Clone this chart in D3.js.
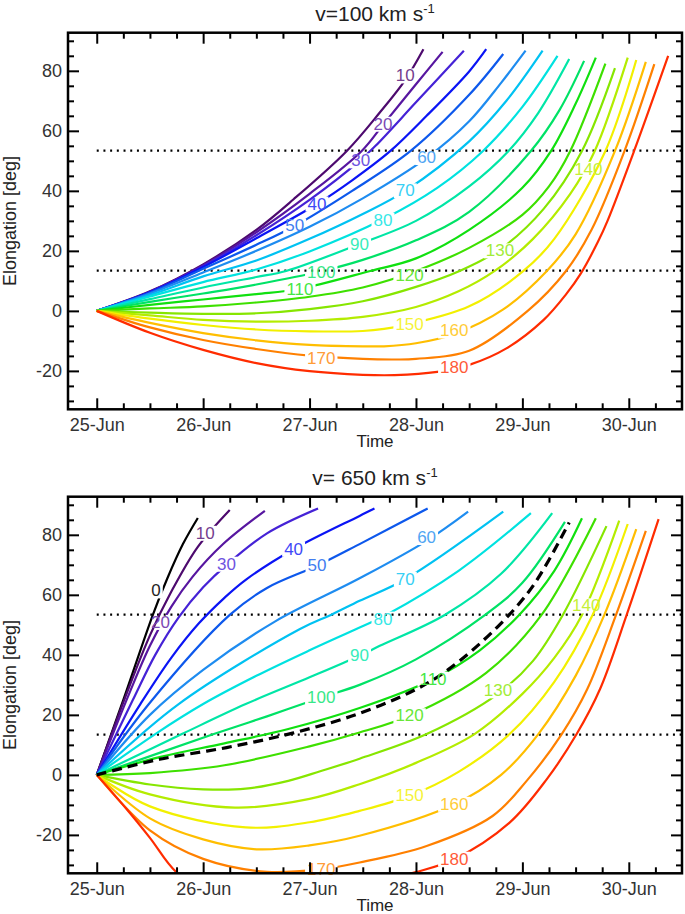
<!DOCTYPE html>
<html><head><meta charset="utf-8">
<script src="https://cdn.jsdelivr.net/npm/d3@7"></script>
<style>
body{margin:0;background:#fff}
svg{display:block}
text{font-family:"Liberation Sans",Arial,sans-serif}
</style>
</head><body>
<svg id="c" width="685" height="914"></svg>
<script>
// ---------- tick labels / categories ----------
const dayTicks = [25,26,27,28,29,30];
const dayLabels = ["25-Jun","26-Jun","27-Jun","28-Jun","29-Jun","30-Jun"];
const elongTicks = [-20,0,20,40,60,80];
const refLevels = [13.4, 53.4];
const panelTitles = ["v=100 km s","v= 650 km s"];
const directions = [0,10,20,30,40,50,60,70,80,90,100,110,120,130,140,150,160,170,180];
const directionColors = ["#000000","#4d0a6e","#5716a0","#4522d6","#0a14f5","#0d58ec","#1e8cf0","#00c2f2","#00e2e0","#00e6a6","#00e266","#10e010","#3ee000","#86e600","#b4ec00","#f2f000","#ffbe00","#ff8000","#ff2c00"];

// ---------- v = 100 km/s : [day of June, elongation deg] ----------
const slow10 = [[25,0],[25.5,6.5],[26,15.5],[26.5,27],[26.85,37.2],[27.35,53.3],[27.66,66.1],[27.9,77],[28.07,87.2]];
const slow20 = [[25,0],[25.5,6.4],[26,15.2],[26.5,26.2],[27,39],[27.49,53.3],[27.69,62],[28,75.5],[28.25,86.3]];
const slow30 = [[25,0],[25.5,6.3],[26,14.9],[26.5,25.2],[27,37],[27.47,50],[27.62,55],[28,69.5],[28.45,86.7]];
const slow40 = [[25,0],[25.5,6.2],[26,14.6],[26.5,24.2],[27.07,35.6],[27.4,43.5],[27.76,53.3],[28.1,65],[28.5,79.8],[28.66,87.2]];
const slow50 = [[25,0],[25.5,6],[26,14],[26.5,22],[26.86,28.3],[27.4,40],[27.95,53.3],[28.5,72],[28.82,85.6]];
const slow60 = [[25,0],[25.5,5.8],[26,12.8],[26.5,20],[27,28],[27.5,37.5],[28.1,51],[28.5,63.2],[28.8,76],[29.03,86.7]];
const slow70 = [[25,0],[25.5,5.3],[26,11.5],[26.5,16.8],[27,24],[27.5,32.3],[27.9,40],[28.5,56.5],[28.85,70],[29.19,86.7]];
const slow80 = [[25,0],[25.5,4.8],[26,9.6],[26.5,13.8],[27,19.8],[27.69,30.5],[28.2,41],[28.63,53.3],[29,68],[29.33,85]];
const slow90 = [[25,0],[25.5,3.9],[26,7.8],[26.5,11.3],[26.78,13.3],[27.47,22.3],[28,30],[28.5,41.5],[28.87,53.3],[29.15,66],[29.44,83.9]];
const slow100 = [[25,0],[25.5,3],[26,5.8],[26.5,8.8],[27.12,13.3],[27.5,17],[28,23.5],[28.5,33],[29.08,53.3],[29.35,67],[29.58,83.3]];
const slow110 = [[25,0],[25.5,2],[26,3.8],[26.5,5.6],[26.9,7.3],[27.57,13.3],[28,17.5],[28.5,27],[29,41],[29.27,53.3],[29.5,69],[29.69,84.4]];
const slow120 = [[25,0],[25.5,0.8],[26,1.5],[26.5,2.8],[27,4.7],[27.5,7.8],[28,13.3],[28.5,21],[29,32],[29.25,41.5],[29.45,53.3],[29.78,82.4]];
const slow130 = [[25,0],[25.5,-0.6],[26,-1],[26.5,-0.8],[27,0.6],[27.5,3.2],[28,8],[28.41,13.3],[28.79,20.5],[29.2,34],[29.56,53.3],[29.87,80.9]];
const slow140 = [[25,0],[25.5,-1.5],[26,-3],[26.5,-3.6],[27,-3.3],[27.5,-2],[28,1.3],[28.4,6.5],[28.74,13.3],[29.1,24],[29.45,39],[29.68,53.3],[29.99,84.4]];
const slow150 = [[25,0],[25.5,-2.6],[26,-4.7],[26.5,-6.2],[27,-6.8],[27.5,-6.7],[27.7,-6],[27.94,-4.4],[28.5,1.5],[29.01,13.3],[29.3,24],[29.78,53.3],[30.07,83.6]];
const slow160 = [[25,0],[25.5,-4],[26,-7.4],[26.5,-9.8],[27,-11.3],[27.5,-11.8],[27.7,-11.8],[28,-10.8],[28.36,-7.7],[28.82,0.5],[29.23,13.3],[29.5,25.5],[29.87,53.3],[30.16,83]];
const slow170 = [[25,0],[25.5,-5.5],[26,-9.7],[26.5,-12.7],[27,-14.9],[27.5,-16],[27.8,-16.2],[28,-16],[28.5,-13.3],[29.05,0],[29.41,13.3],[29.65,27],[29.96,53.3],[30.24,82.2]];
const slow180 = [[25,0],[25.5,-7.3],[26,-13],[26.5,-17.4],[27,-20.1],[27.5,-21.3],[27.8,-21.4],[28.2,-20.3],[28.5,-18],[28.85,-12.5],[29.2,-3],[29.41,5.5],[29.55,12.5],[29.71,23],[29.8,30],[30.05,53.3],[30.37,85]];
// label anchors: [direction, day, elongation]
const slowLabels = [[10,27.9,78.3],[20,27.69,62.2],[30,27.48,50],[40,27.07,35.6],[50,26.86,28.3],[60,28.1,51.1],[70,27.9,40],[80,27.69,30.2],[90,27.47,22.2],[100,27.11,12.8],[110,26.91,7.2],[120,27.94,11.7],[130,28.79,20],[140,29.62,47.2],[150,27.94,-4.4],[160,28.36,-6.7],[170,27.11,-15.8],[180,28.36,-18.9]];

// ---------- v = 650 km/s ----------
const fast0 = [[25,0],[25.25,25],[25.53,53.6],[25.66,65.2],[25.81,76.9],[25.95,85.6]];
const fast10 = [[25,0],[25.28,27],[25.5,46.5],[25.7,61],[25.95,76],[26.25,88.3]];
const fast20 = [[25,0],[25.31,27.5],[25.5,43],[25.7,56],[25.9,66],[26.19,77],[26.58,88]];
const fast30 = [[25,0],[25.34,25],[25.55,40],[25.77,52.5],[26,62.5],[26.22,70],[26.6,80.5],[27.08,88.8]];
const fast40 = [[25,0],[25.41,23.6],[25.7,39],[25.96,50.5],[26.2,59],[26.4,65],[26.85,75.2],[27.47,86.3],[27.61,88.8]];
const fast50 = [[25,0],[25.49,23.6],[26.25,53.3],[26.6,62.3],[27.07,69.7],[27.47,76.9],[28.11,88.8]];
const fast60 = [[25,0],[25.5,20],[26,35],[26.67,51],[27.47,65.5],[28.1,78],[28.49,87.7]];
const fast70 = [[25,0],[25.77,23.6],[26.91,48.6],[27.2,53.3],[27.47,58],[27.9,65.2],[28.82,87.7]];
const fast80 = [[25,0],[25.55,13.6],[26,23.6],[26.5,33],[27,41.5],[27.47,49.1],[27.72,53.3],[28.4,68],[29.08,87.2]];
const fast90 = [[25,0],[25.8,13.6],[26.4,23.6],[27,32.5],[27.47,39.7],[27.66,43],[28.27,53.3],[28.8,67],[29.28,87.2]];
const fast100 = [[25,0],[26.1,13.6],[26.6,19.5],[27.11,25.8],[27.47,30],[28,38.5],[28.65,53.3],[29,64],[29.4,84.3]];
const fast110 = [[25,0],[25.6,6],[26.2,10.5],[26.8,15.3],[27.47,22.3],[28.16,31.9],[28.6,41.5],[28.97,53.3],[29.3,68],[29.56,85.5]];
const fast120 = [[25,0],[25.5,0.6],[26.2,3.2],[27,9.5],[27.47,14.1],[27.94,19.7],[28.66,34],[29.18,53.3],[29.69,85.5]];
const fast130 = [[25,0],[25.5,-3.2],[26,-4.8],[26.4,-4.6],[26.8,-2],[27.1,1.2],[27.47,5.4],[28.1,13.6],[28.77,27],[29.1,38],[29.38,53.3],[29.79,82.9]];
const fast140 = [[25,0],[25.5,-6.5],[26.3,-10.9],[27,-8],[27.47,-3.1],[28,4],[28.55,13.6],[29,27],[29.3,39],[29.56,53.3],[29.91,84.7]];
const fast150 = [[25,0],[25.5,-10.5],[26.4,-17.5],[27,-15.8],[27.47,-12],[27.94,-7],[28.4,1],[28.88,13.6],[29.3,31],[29.66,53.3],[29.99,83.6]];
const fast160 = [[25,0],[25.5,-14.5],[26,-21.5],[26.5,-24.8],[27,-23.5],[27.47,-20.3],[28.36,-9.8],[28.8,0],[29.15,13.6],[29.5,33],[29.77,53.3],[30.07,81.9]];
const fast170 = [[25,0],[25.5,-18.5],[26,-28],[26.6,-32.3],[27.11,-31.4],[27.47,-29.2],[28.1,-23.7],[28.72,-13.7],[29.04,-2],[29.37,13.6],[29.61,28.6],[29.88,53.3],[30.16,81.3]];
const fast180 = [[25,0],[25.28,-11.4],[25.5,-21],[25.75,-32.5],[26.1,-40],[26.6,-43],[27.1,-41],[27.6,-36],[27.99,-32.5],[28.36,-28.1],[28.88,-15.9],[29.23,-1.4],[29.51,13.6],[29.73,28.6],[29.98,53.3],[30.28,85.2]];
const fastObserved = [[25,0],[25.59,5.2],[26.22,9.1],[26.85,14],[27.47,20.5],[28,28.5],[28.3,35],[28.76,49.1],[29.1,63],[29.44,84.1]];
const fastLabels = [[0,25.557,61.3],[10,26.02,80.5],[20,25.6,50.8],[30,26.22,70.2],[40,26.85,75.2],[50,27.07,69.7],[60,28.1,79.1],[70,27.9,65.2],[80,27.69,51.9],[90,27.47,39.7],[100,27.11,25.8],[110,28.16,31.9],[120,27.94,19.7],[130,28.77,28],[140,29.6,56.3],[150,27.94,-7],[160,28.36,-9.8],[170,27.11,-31.4],[180,28.36,-28.1]];

// ---------- assemble ----------
const slowCurves = [[10,slow10],[20,slow20],[30,slow30],[40,slow40],[50,slow50],[60,slow60],[70,slow70],[80,slow80],[90,slow90],[100,slow100],[110,slow110],[120,slow120],[130,slow130],[140,slow140],[150,slow150],[160,slow160],[170,slow170],[180,slow180]];
const fastCurves = [[0,fast0],[10,fast10],[20,fast20],[30,fast30],[40,fast40],[50,fast50],[60,fast60],[70,fast70],[80,fast80],[90,fast90],[100,fast100],[110,fast110],[120,fast120],[130,fast130],[140,fast140],[150,fast150],[160,fast160],[170,fast170],[180,fast180]];

const W = 685, H = 914;
const L = 68, R = 682;
const panels = [
  {title: panelTitles[0], curves: slowCurves, labels: slowLabels, dashed: null, top: 32.7, bottom: 409.3},
  {title: panelTitles[1], curves: fastCurves, labels: fastLabels, dashed: fastObserved, top: 496.7, bottom: 873.3}
];

const svg = d3.select("#c");
const defs = svg.append("defs");
const x = d3.scaleLinear().domain([24.73, 30.5]).range([L, R]);
const colorOf = a => directionColors[directions.indexOf(a)];
const labelColorOf = a => a === 0 ? "#222" : d3.interpolateRgb(colorOf(a), "#fff")(0.22);
const minorDays = d3.range(25.25, 30.5, 0.25).filter(d => Math.abs(d - Math.round(d)) > 0.01);
const minorElong = d3.range(-30, 91, 5).filter(d => d % 20 !== 0);

panels.forEach((p, idx) => {
  const y = d3.scaleLinear().domain([-32.8, 92.7]).range([p.bottom, p.top]);
  const clipId = "clip" + idx;
  defs.append("clipPath").attr("id", clipId).append("rect")
    .attr("x", L).attr("y", p.top).attr("width", R - L).attr("height", p.bottom - p.top);
  const plot = svg.append("g").attr("clip-path", `url(#${clipId})`);
  const labelG = svg.append("g");

  refLevels.forEach(v => {
    plot.append("line").attr("x1", x(25)).attr("x2", R).attr("y1", y(v)).attr("y2", y(v))
      .attr("stroke", "#000").attr("stroke-width", 2.2).attr("stroke-dasharray", "2,4.7");
  });

  const line = d3.line().x(d => x(d[0])).y(d => y(d[1])).curve(d3.curveCatmullRom.alpha(0.5));

  p.curves.forEach(([ang, data]) => {
    const lab = p.labels.find(l => l[0] === ang);
    let maskRef = null;
    if (lab) {
      const t = labelG.append("text")
        .attr("x", x(lab[1])).attr("y", y(lab[2]))
        .attr("text-anchor", "middle").attr("dominant-baseline", "central")
        .attr("font-size", 17).attr("fill", labelColorOf(ang)).text(ang);
      const bb = t.node().getBBox();
      const mid = `m${idx}_${ang}`;
      const m = defs.append("mask").attr("id", mid).attr("maskUnits", "userSpaceOnUse")
        .attr("x", 0).attr("y", 0).attr("width", W).attr("height", H);
      m.append("rect").attr("x", 0).attr("y", 0).attr("width", W).attr("height", H).attr("fill", "#fff");
      m.append("rect").attr("x", bb.x - 2).attr("y", bb.y + 2).attr("width", bb.width + 4).attr("height", bb.height - 4).attr("fill", "#000");
      maskRef = `url(#${mid})`;
    }
    plot.append("path").attr("d", line(data)).attr("fill", "none")
      .attr("stroke", colorOf(ang)).attr("stroke-width", 2.2).attr("mask", maskRef);
  });

  if (p.dashed) {
    plot.append("path").attr("d", line(p.dashed)).attr("fill", "none")
      .attr("stroke", "#000").attr("stroke-width", 3.2).attr("stroke-dasharray", "10,6");
  }

  // axes
  const styleAxis = g => {
    g.select(".domain").remove();
    g.selectAll(".tick line").attr("stroke", "#000").attr("stroke-width", 2);
    g.selectAll(".tick text").attr("font-size", 18).attr("fill", "#333")
      .attr("font-family", '"Liberation Sans",Arial,sans-serif');
  };
  svg.append("g").attr("transform", `translate(0,${p.bottom})`)
    .call(d3.axisBottom(x).tickValues(dayTicks).tickSize(-11).tickPadding(9).tickFormat((d, i) => dayLabels[i])).call(styleAxis);
  svg.append("g").attr("transform", `translate(0,${p.bottom})`)
    .call(d3.axisBottom(x).tickValues(minorDays).tickSize(-6).tickFormat("")).call(styleAxis);
  svg.append("g").attr("transform", `translate(0,${p.top})`)
    .call(d3.axisTop(x).tickValues(dayTicks).tickSize(-11).tickFormat("")).call(styleAxis);
  svg.append("g").attr("transform", `translate(0,${p.top})`)
    .call(d3.axisTop(x).tickValues(minorDays).tickSize(-6).tickFormat("")).call(styleAxis);
  svg.append("g").attr("transform", `translate(${L},0)`)
    .call(d3.axisLeft(y).tickValues(elongTicks).tickSize(-11).tickPadding(6).tickFormat(d => String(d))).call(styleAxis);
  svg.append("g").attr("transform", `translate(${L},0)`)
    .call(d3.axisLeft(y).tickValues(minorElong).tickSize(-6).tickFormat("")).call(styleAxis);
  svg.append("g").attr("transform", `translate(${R},0)`)
    .call(d3.axisRight(y).tickValues(elongTicks).tickSize(-11).tickFormat("")).call(styleAxis);
  svg.append("g").attr("transform", `translate(${R},0)`)
    .call(d3.axisRight(y).tickValues(minorElong).tickSize(-6).tickFormat("")).call(styleAxis);

  svg.append("rect").attr("x", L).attr("y", p.top).attr("width", R - L).attr("height", p.bottom - p.top)
    .attr("fill", "none").attr("stroke", "#000").attr("stroke-width", 2.5);

  // titles
  const tt = svg.append("text").attr("x", (L + R) / 2).attr("y", p.top - 12)
    .attr("text-anchor", "middle").attr("font-size", 21).attr("fill", "#222").text(p.title);
  tt.append("tspan").attr("dy", -8).attr("font-size", 13).text("-1");

  svg.append("text").attr("x", (L + R) / 2).attr("y", p.bottom + 38)
    .attr("text-anchor", "middle").attr("font-size", 17).attr("fill", "#222").text("Time");
  svg.append("text").attr("transform", `translate(16,${(p.top + p.bottom) / 2}) rotate(-90)`)
    .attr("text-anchor", "middle").attr("font-size", 18).attr("fill", "#222").text("Elongation [deg]");
});
</script>
</body></html>
